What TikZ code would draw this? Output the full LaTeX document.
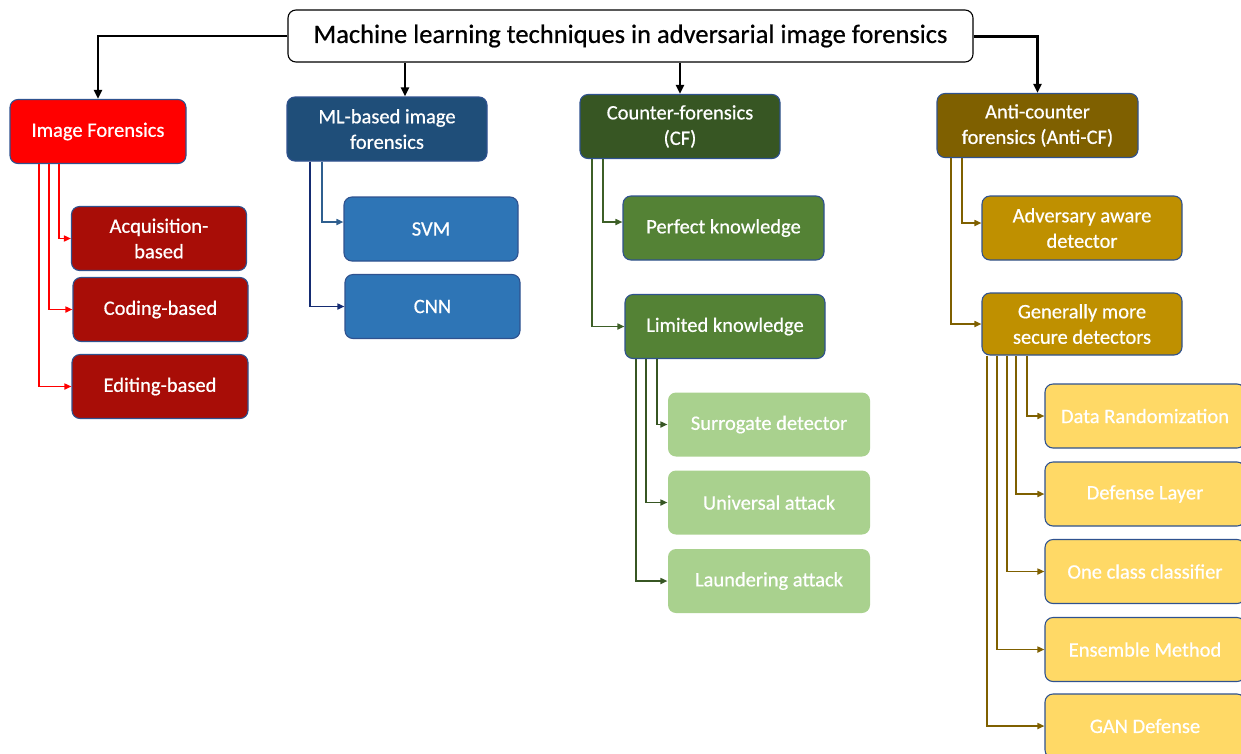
\documentclass[tikz,border=0pt]{standalone}
\usepackage{fontspec}
\setmainfont{Carlito}
\newfontfamily\boxfont{Carlito}[FakeBold=0.6]
\usetikzlibrary{arrows.meta}
\definecolor{ifred}{HTML}{FF0000}
\definecolor{ifdark}{HTML}{A80D07}
\definecolor{mlnavy}{HTML}{1F4E79}
\definecolor{mlblue}{HTML}{2E75B6}
\definecolor{mlline}{HTML}{2F5F8F}
\definecolor{mlline2}{HTML}{152C72}
\definecolor{cfdark}{HTML}{375623}
\definecolor{cfmid}{HTML}{548235}
\definecolor{cflight}{HTML}{A9D18E}
\definecolor{acfdark}{HTML}{7F6000}
\definecolor{acfmid}{HTML}{BF9000}
\definecolor{acflight}{HTML}{FFD966}
\definecolor{boxedge}{HTML}{2F528F}
\tikzset{
  box/.style={rounded corners=8pt, draw=boxedge, line width=1.1pt, inner sep=0pt,
    minimum width=#1, minimum height=64pt, align=center, text=white,
    font=\boxfont\fontsize{20.5}{25.5}\selectfont},
  box/.default=176pt,
  link/.style={line width=1.6pt, -{Triangle[length=7pt,width=6pt]}},
  toplink/.style={line width=2.4pt, black, -{Triangle[length=9pt,width=8pt]}}
}
\begin{document}
\begin{tikzpicture}[x=1pt,y=-1pt]
\useasboundingbox (0,0) rectangle (1241,753);
% root
\node[box=685pt, minimum height=52pt, draw=black, fill=white, text=black,
  font=\boxfont\fontsize{26.5}{30}\selectfont] (root) at (630.5,36) {Machine learning techniques in adversarial image forensics};
% first level
\node[box, fill=ifred] (img) at (98,131.5) {Image Forensics};
\node[box=200pt, fill=mlnavy] (ml) at (387,129) {ML-based image\\forensics};
\node[box=200pt, fill=cfdark] (cf) at (680,126.5) {Counter-forensics\\(CF)};
\node[box=201pt, fill=acfdark] (acf) at (1037.5,125.5) {Anti-counter\\forensics (Anti-CF)};
% image forensics
\node[box=175pt, fill=ifdark] (acq) at (159,238.5) {Acquisition-\\based};
\node[box=175pt, fill=ifdark] (cod) at (160.5,309.5) {Coding-based};
\node[box=176pt, fill=ifdark] (edi) at (160,386.5) {Editing-based};
% ml-based
\node[box=174pt, fill=mlblue] (svm) at (431,229) {SVM};
\node[box=175pt, fill=mlblue] (cnn) at (432.5,306.5) {CNN};
% counter-forensics
\node[box=201pt, fill=cfmid] (perf) at (723.5,228) {Perfect knowledge};
\node[box=200pt, fill=cfmid] (lim) at (725,326.5) {Limited knowledge};
\node[box=202pt, fill=cflight, draw=none] (sur) at (769,424.5) {Surrogate detector};
\node[box=202pt, fill=cflight, draw=none] (uni) at (769,502.5) {Universal attack};
\node[box=202pt, fill=cflight, draw=none] (lau) at (769,581) {Laundering attack};
% anti-counter forensics
\node[box=200pt, fill=acfmid] (adv) at (1082,228) {Adversary aware\\detector};
\node[box=200pt, minimum height=62pt, fill=acfmid] (gen) at (1082,324) {Generally more\\secure detectors};
\node[box=200pt, fill=acflight] (rand) at (1145,416) {Data Randomization};
\node[box=200pt, fill=acflight] (layer) at (1145,494) {Defense Layer};
\node[box=200pt, fill=acflight] (occ) at (1145,571.5) {One class classifier};
\node[box=200pt, fill=acflight] (ens) at (1145,649.5) {Ensemble Method};
\node[box=200pt, fill=acflight] (gan) at (1145,726) {GAN Defense};
% root links
\draw[toplink] (root.west) -| (img.north);
\draw[toplink] (root.south -| 405,0) -- (ml.north -| 405,0);
\draw[toplink] (root.south -| cf.north) -- (cf.north);
\draw[toplink, line width=3pt] (root.east) -| (acf.north);
% image forensics links
\draw[link, ifred] (img.south -| 59,0) |- (acq.west);
\draw[link, ifred] (img.south -| 49,0) |- (cod.west);
\draw[link, ifred] (img.south -| 39,0) |- (edi.west);
% ml links
\draw[link, mlline] (ml.south -| 322,0) |- ([yshift=7pt]svm.west);
\draw[link, mlline2] (ml.south -| 310,0) |- (cnn.west);
% cf links
\draw[link, cfdark!80!cfmid] (cf.south -| 603,0) |- ([yshift=6pt]perf.west);
\draw[link, cfdark!80!cfmid] (cf.south -| 592,0) |- (lim.west);
\draw[link, cfdark] (lim.south -| 657,0) |- (sur.west);
\draw[link, cfdark] (lim.south -| 646,0) |- (uni.west);
\draw[link, cfdark] (lim.south -| 636,0) |- (lau.west);
% anti-cf links
\draw[link, acfdark] (acf.south -| 962,0) |- ([yshift=5pt]adv.west);
\draw[link, acfdark] (acf.south -| 951,0) |- (gen.west);
\draw[link, acfdark] (gen.south -| 1027,0) |- (rand.west);
\draw[link, acfdark] (gen.south -| 1016,0) |- (layer.west);
\draw[link, acfdark] (gen.south -| 1007,0) |- (occ.west);
\draw[link, acfdark] (gen.south -| 997,0) |- (ens.west);
\draw[link, acfdark] (gen.south -| 987,0) |- (gan.west);
\end{tikzpicture}
\end{document}
